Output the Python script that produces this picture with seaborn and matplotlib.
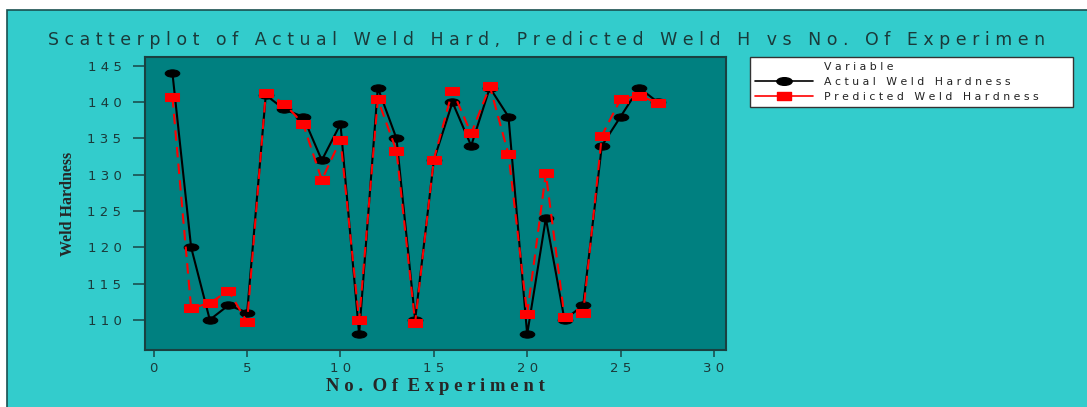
import numpy as np
import seaborn as sns
import matplotlib.pyplot as plt
from matplotlib.path import Path
from matplotlib.patches import Rectangle
from matplotlib.lines import Line2D
import matplotlib.transforms as mtransforms

# data
experiment = list(range(1, 28))
actual = [144, 120, 110, 112, 111, 141, 139, 138, 132, 137, 108, 142, 135, 110,
          132, 140, 134, 142, 138, 108, 124, 110, 112, 134, 138, 142, 140]
predicted = [140.7, 111.6, 112.3, 114.0, 109.7, 141.3, 139.8, 137.0, 129.3, 134.8,
             109.9, 140.4, 133.3, 109.6, 132.1, 141.6, 135.7, 142.2, 132.8, 110.8,
             130.2, 110.4, 110.9, 135.4, 140.4, 140.9, 139.9]
x_ticks = [0, 5, 10, 15, 20, 25, 30]
y_ticks = [110, 115, 120, 125, 130, 135, 140, 145]


def spaced(s):
    return " ".join(s)


# ellipse and flat rectangle markers
ellipse = Path.unit_circle().transformed(mtransforms.Affine2D().scale(1, 0.5))
flat_box = Path([(-1, -0.65), (1, -0.65), (1, 0.65), (-1, 0.65), (-1, -0.65)],
                [Path.MOVETO, Path.LINETO, Path.LINETO, Path.LINETO, Path.CLOSEPOLY])

sns.set_style("ticks")
plt.rcParams['font.family'] = ['DejaVu Sans']

fig = plt.figure(figsize=(10.87, 4.07), dpi=100, facecolor="white")
fig.patches.append(Rectangle((7 / 1087, -0.1), 1.2, 1.1 - 10 / 407, transform=fig.transFigure,
                             facecolor="#33CCCC", edgecolor="#1a5050", linewidth=1.2,
                             zorder=-5))

ax = fig.add_axes([145 / 1087, 1 - 350 / 407, (726 - 145) / 1087, (350 - 57) / 407])
ax.set_zorder(2)
ax.set_facecolor("#008080")

sns.lineplot(x=experiment, y=actual, ax=ax, color="black", linewidth=1.5,
             marker=ellipse, markersize=10.5, markeredgecolor="black",
             markerfacecolor="black", zorder=3)
sns.lineplot(x=experiment, y=predicted, ax=ax, color="#ff0000", linewidth=1.5,
             linestyle=(0, (5, 3)), marker=flat_box, markersize=9.5,
             markeredgecolor="#ff0000", markerfacecolor="#ff0000", zorder=4)

ax.set_xlim(-0.47, 30.65)
ax.set_ylim(105.83, 146.24)
ax.set_xticks(x_ticks)
ax.set_xticklabels([spaced(str(t)) for t in x_ticks])
ax.set_yticks(y_ticks)
ax.set_yticklabels([spaced(str(t)) for t in y_ticks])
ax.tick_params(axis="both", direction="out", length=9, width=1.2, color="#1a5050",
               labelsize=9.5, labelcolor="#1a3a3a", pad=8)
ax.tick_params(axis="x", length=5, pad=4)
for sp in ax.spines.values():
    sp.set_visible(True)
    sp.set_color("#1a4040")
    sp.set_linewidth(1.5)

ax.set_xlabel("N o .  O f  E x p e r i m e n t", fontfamily="Liberation Serif",
              fontweight="bold", fontsize=13.5, labelpad=1.5)
ax.set_ylabel("Weld Hardness", fontfamily="Liberation Serif", fontweight="bold",
              fontsize=11.5, labelpad=8)

fig.text(547 / 1087, 1 - 40 / 407,
         spaced("Scatterplot of Actual Weld Hard, Predicted Weld H vs No. Of Experimen"),
         ha="center", va="center", fontsize=12.5, color="#1a3a3a")

handles = [Line2D([], [], linestyle="none"),
           Line2D([], [], color="black", linewidth=1.2, marker=ellipse,
                  markersize=11, markerfacecolor="black"),
           Line2D([], [], color="#ff0000", linewidth=1.2, marker=flat_box,
                  markersize=9.5, markerfacecolor="#ff0000", markeredgecolor="#ff0000")]
labels = [spaced("Variable"), spaced("Actual Weld Hardness"),
          spaced("Predicted Weld Hardness")]
leg = fig.legend(handles, labels, loc="upper left", mode="expand",
                 bbox_to_anchor=(750 / 1087, 1 - 105 / 407, 323 / 1087, 48 / 407),
                 borderaxespad=0, fontsize=7.8,
                 frameon=True, fancybox=False, edgecolor="#333333",
                 facecolor="white", framealpha=1, handlelength=5.4,
                 labelspacing=0.45, borderpad=0.45, handletextpad=1.0)
leg.get_frame().set_linewidth(1.0)
leg.set_zorder(5)
for t in leg.get_texts():
    t.set_color("#222222")

fig.savefig("out.png", dpi=100, facecolor="white")
